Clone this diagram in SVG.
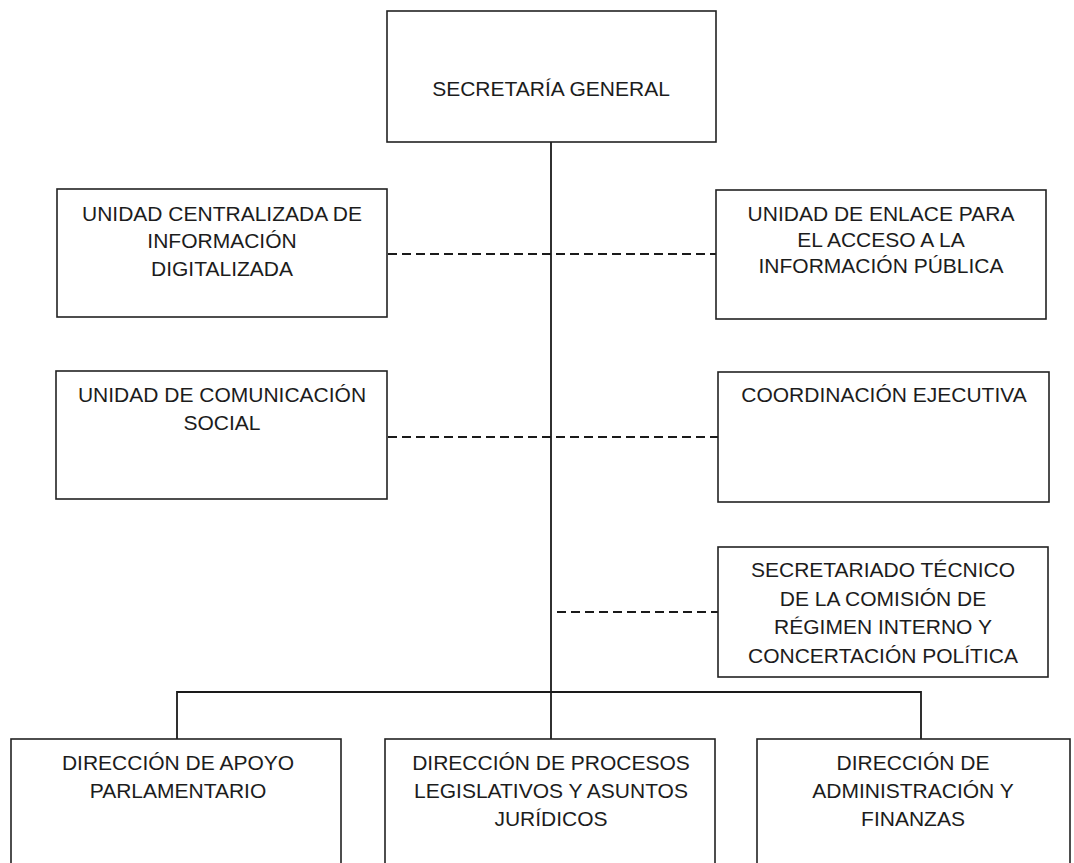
<svg xmlns="http://www.w3.org/2000/svg" width="1074" height="863" viewBox="0 0 1074 863">
<style>
.box{fill:none;stroke:#222;stroke-width:1.6}
.t{font-family:"Liberation Sans",Arial,sans-serif;font-size:21px;fill:#1c1c1c;text-anchor:middle}
.solid{fill:none;stroke:#1a1a1a;stroke-width:1.8}
.dash{fill:none;stroke:#1a1a1a;stroke-width:2;stroke-dasharray:9 5}
</style>
<rect width="1074" height="863" fill="#ffffff"/>
<g id="connectors">
<path class="solid" d="M551 142 V739"/>
<path class="solid" d="M177 739 V692 H921 V739"/>
<path class="dash" d="M388 254 H716"/>
<path class="dash" d="M388 437 H718"/>
<path class="dash" d="M557 612 H718"/>
</g>
<g id="secretaria-general">
<rect class="box" x="387" y="11" width="329" height="131"/>
<text class="t" x="551" y="96">SECRETARÍA GENERAL</text>
</g>
<g id="unidad-centralizada">
<rect class="box" x="57" y="189" width="330" height="128"/>
<text class="t" x="222" y="221">UNIDAD CENTRALIZADA DE</text>
<text class="t" x="222" y="248">INFORMACIÓN</text>
<text class="t" x="222" y="276">DIGITALIZADA</text>
</g>
<g id="unidad-enlace">
<rect class="box" x="716" y="190" width="330" height="129"/>
<text class="t" x="881" y="221">UNIDAD DE ENLACE PARA</text>
<text class="t" x="881" y="247">EL ACCESO A LA</text>
<text class="t" x="881" y="273">INFORMACIÓN PÚBLICA</text>
</g>
<g id="unidad-comunicacion">
<rect class="box" x="56" y="371" width="331" height="128"/>
<text class="t" x="222" y="402">UNIDAD DE COMUNICACIÓN</text>
<text class="t" x="222" y="430">SOCIAL</text>
</g>
<g id="coordinacion-ejecutiva">
<rect class="box" x="718" y="372" width="331" height="130"/>
<text class="t" x="884" y="402">COORDINACIÓN EJECUTIVA</text>
</g>
<g id="secretariado-tecnico">
<rect class="box" x="718" y="547" width="330" height="130"/>
<text class="t" x="883" y="577">SECRETARIADO TÉCNICO</text>
<text class="t" x="883" y="606">DE LA COMISIÓN DE</text>
<text class="t" x="883" y="634">RÉGIMEN INTERNO Y</text>
<text class="t" x="883" y="663">CONCERTACIÓN POLÍTICA</text>
</g>
<g id="direccion-apoyo">
<rect class="box" x="11" y="739" width="330" height="140"/>
<text class="t" x="178" y="770">DIRECCIÓN DE APOYO</text>
<text class="t" x="178" y="798">PARLAMENTARIO</text>
</g>
<g id="direccion-procesos">
<rect class="box" x="385" y="739" width="330" height="140"/>
<text class="t" x="551" y="770">DIRECCIÓN DE PROCESOS</text>
<text class="t" x="551" y="798">LEGISLATIVOS Y ASUNTOS</text>
<text class="t" x="551" y="826">JURÍDICOS</text>
</g>
<g id="direccion-administracion">
<rect class="box" x="757" y="739" width="313" height="140"/>
<text class="t" x="913" y="770">DIRECCIÓN DE</text>
<text class="t" x="913" y="798">ADMINISTRACIÓN Y</text>
<text class="t" x="913" y="826">FINANZAS</text>
</g>
</svg>
